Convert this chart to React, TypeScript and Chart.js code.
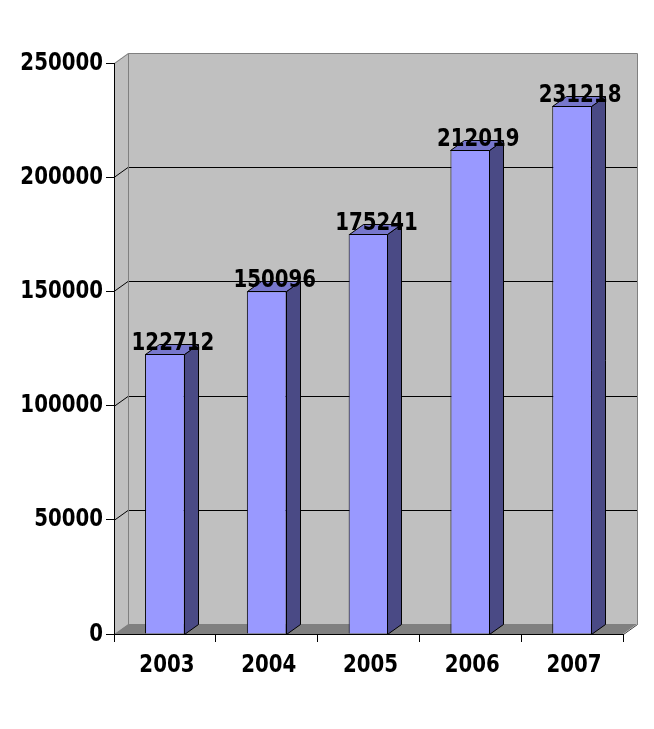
import React, { useEffect, useRef } from "react";
import { Chart, registerables } from "chart.js";

Chart.register(...registerables);

const categories = ["2003", "2004", "2005", "2006", "2007"];
const values = [122712, 150096, 175241, 212019, 231218];
const yTicks = [0, 50000, 100000, 150000, 200000, 250000];

const DX = 14;
const DY = 10;
const SY = 1.14;
const FONT = "'DejaVu Sans Condensed', 'DejaVu Sans', sans-serif";

function drawText(ctx: any, text: string, x: number, y: number, align: string) {
  ctx.save();
  ctx.translate(x, y);
  ctx.scale(1, SY);
  ctx.fillStyle = "#000000";
  ctx.font = `bold 22px ${FONT}`;
  ctx.textAlign = align;
  ctx.textBaseline = "middle";
  ctx.fillText(text, 0, 0);
  ctx.restore();
}

const wallPlugin = {
  id: "wall3d",
  beforeDraw(chart: any) {
    const { ctx, chartArea } = chart;
    const y = chart.scales.y;
    const { left, right, top, bottom } = chartArea;
    ctx.save();
    ctx.fillStyle = "#C0C0C0";
    ctx.fillRect(left + DX, top - DY, right - left, bottom - top);
    ctx.beginPath();
    ctx.moveTo(left, top);
    ctx.lineTo(left + DX, top - DY);
    ctx.lineTo(left + DX, bottom - DY);
    ctx.lineTo(left, bottom);
    ctx.closePath();
    ctx.fill();
    ctx.fillStyle = "#808080";
    ctx.beginPath();
    ctx.moveTo(left, bottom);
    ctx.lineTo(right, bottom);
    ctx.lineTo(right + DX, bottom - DY);
    ctx.lineTo(left + DX, bottom - DY);
    ctx.closePath();
    ctx.fill();
    ctx.lineWidth = 1;
    ctx.strokeStyle = "#000000";
    yTicks.forEach((v) => {
      if (v === 0 || v === yTicks[yTicks.length - 1]) return;
      const py = Math.round(y.getPixelForValue(v)) + 0.5;
      ctx.beginPath();
      ctx.moveTo(left, py);
      ctx.lineTo(left + DX, py - DY);
      ctx.lineTo(right + DX, py - DY);
      ctx.stroke();
    });
    ctx.strokeStyle = "#808080";
    ctx.beginPath();
    ctx.moveTo(left + 0.5, top + 0.5);
    ctx.lineTo(left + DX + 0.5, top - DY + 0.5);
    ctx.lineTo(right + DX + 0.5, top - DY + 0.5);
    ctx.lineTo(right + DX + 0.5, bottom - DY + 0.5);
    ctx.moveTo(left + DX + 0.5, top - DY + 0.5);
    ctx.lineTo(left + DX + 0.5, bottom - DY + 0.5);
    ctx.stroke();
    ctx.strokeStyle = "#404040";
    ctx.beginPath();
    ctx.moveTo(right + 0.5, bottom + 0.5);
    ctx.lineTo(right + DX + 0.5, bottom - DY + 0.5);
    ctx.stroke();
    ctx.restore();
  },
  afterDatasetsDraw(chart: any) {
    const { ctx } = chart;
    const meta = chart.getDatasetMeta(0);
    ctx.save();
    ctx.lineWidth = 1;
    ctx.strokeStyle = "#000000";
    meta.data.forEach((bar: any, i: number) => {
      const { x, y, base, width } = bar.getProps(["x", "y", "base", "width"], true);
      const l = Math.round(x - width / 2) + 0.5;
      const r = Math.round(x + width / 2) - 0.5;
      const t = Math.round(y) + 0.5;
      const b = Math.round(base) + 0.5;
      ctx.fillStyle = "#4A4A85";
      ctx.beginPath();
      ctx.moveTo(r, t);
      ctx.lineTo(r + DX, t - DY);
      ctx.lineTo(r + DX, b - DY);
      ctx.lineTo(r, b);
      ctx.closePath();
      ctx.fill();
      ctx.stroke();
      ctx.fillStyle = "#7777CC";
      ctx.beginPath();
      ctx.moveTo(l, t);
      ctx.lineTo(l + DX, t - DY);
      ctx.lineTo(r + DX, t - DY);
      ctx.lineTo(r, t);
      ctx.closePath();
      ctx.fill();
      ctx.stroke();
      drawText(ctx, String(values[i]), x + DX / 2 + 1, t - 11, "center");
    });
    ctx.restore();
  },
  afterDraw(chart: any) {
    const { ctx, chartArea } = chart;
    const ys = chart.scales.y;
    const xs = chart.scales.x;
    yTicks.forEach((v) => {
      drawText(ctx, String(v), chartArea.left - 11, ys.getPixelForValue(v), "right");
    });
    categories.forEach((c, i) => {
      drawText(ctx, c, xs.getPixelForValue(i) + 2, chartArea.bottom + 31, "center");
    });
  },
};

export default function App() {
  const ref = useRef<HTMLCanvasElement | null>(null);
  useEffect(() => {
    if (!ref.current) return;
    const chart = new Chart(ref.current, {
      type: "bar",
      data: {
        labels: categories,
        datasets: [
          {
            data: values,
            backgroundColor: "#9999FF",
            borderColor: "#000000",
            borderWidth: 1,
            barPercentage: 0.39,
            categoryPercentage: 1,
          },
        ],
      },
      options: {
        animation: false,
        responsive: false,
        maintainAspectRatio: false,
        layout: { padding: { left: 0, top: 63, right: 31, bottom: 0 } },
        plugins: { legend: { display: false }, tooltip: { enabled: false } },
        scales: {
          x: {
            offset: true,
            grid: {
              offset: true,
              drawOnChartArea: false,
              drawTicks: true,
              tickLength: 8,
              color: "#000000",
            },
            border: { display: true, color: "#000000" },
            ticks: { display: false },
            afterFit(scale: any) {
              scale.height = 95;
            },
          },
          y: {
            min: 0,
            max: 250000,
            afterBuildTicks(scale: any) {
              scale.ticks = yTicks.map((v) => ({ value: v }));
            },
            grid: {
              drawOnChartArea: false,
              drawTicks: true,
              tickLength: 8,
              color: "#000000",
            },
            border: { display: true, color: "#000000" },
            ticks: { display: false },
            afterFit(scale: any) {
              scale.width = 114;
            },
          },
        },
      },
      plugins: [wallPlugin],
    });
    return () => chart.destroy();
  }, []);
  return (
    <div style={{ position: "fixed", left: 0, top: 0, width: 654, height: 729, background: "#fff" }}>
      <canvas ref={ref} width={654} height={729} style={{ display: "block" }} />
    </div>
  );
}
